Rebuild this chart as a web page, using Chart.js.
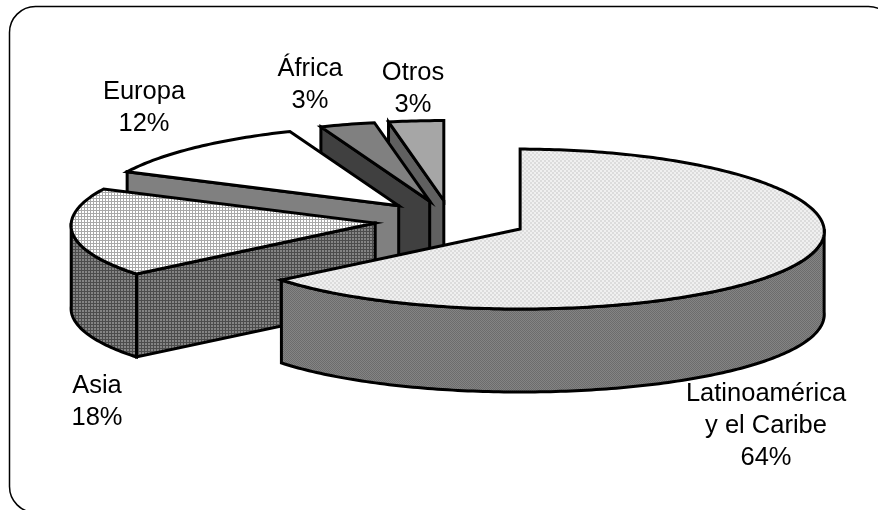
<!DOCTYPE html>
<html>
<head>
<meta charset="utf-8">
<title>Distribución</title>
<script src="https://cdn.jsdelivr.net/npm/chart.js@4/dist/chart.umd.min.js"></script>
<style>
  html, body { margin: 0; padding: 0; background: #fff; }
  #wrap { width: 878px; height: 510px; overflow: hidden; }
</style>
</head>
<body>
<div id="wrap"><canvas id="pie-3d" width="878" height="510"></canvas></div>
<script>
var categories = ['Latinoamérica y el Caribe', 'Asia', 'Europa', 'África', 'Otros'];
var shares = [64, 18, 12, 3, 3];

// lines of each label: category may wrap, the share always comes last
var label_lines = [['Latinoamérica', 'y el Caribe'], ['Asia'], ['Europa'], ['África'], ['Otros']];

var TILT = 0.263;      // vertical squash of the pie disc
var DEPTH = 83;        // wall height
var CENTER_Y = 220.5;  // screen y of the disc centre
var PERSPECTIVE = 0.03; // near side of the disc a little wider than the far side
var LABEL_FONT = '25.5px "Liberation Sans", Arial, sans-serif';
var LINE_GAP = 32;

// small tiled fills
function tile(size, paint) {
    var c = document.createElement('canvas');
    c.width = c.height = size;
    paint(c.getContext('2d'));
    return c.getContext('2d').createPattern(c, 'repeat');
}
function dots(bg, fg) {
    return tile(2, function(g) {
        g.fillStyle = bg; g.fillRect(0, 0, 2, 2);
        g.fillStyle = fg; g.fillRect(0, 0, 1, 1); g.fillRect(1, 1, 1, 1);
    });
}
function blocks(bg, fg) {
    return tile(4, function(g) {
        g.fillStyle = bg; g.fillRect(0, 0, 4, 4);
        g.fillStyle = fg; g.fillRect(0, 0, 2, 2); g.fillRect(2, 2, 2, 2);
    });
}
function grid(bg, fg) {
    return tile(3, function(g) {
        g.fillStyle = bg; g.fillRect(0, 0, 3, 3);
        g.fillStyle = fg; g.fillRect(0, 0, 3, 1); g.fillRect(0, 0, 1, 3);
    });
}

var top_fills = [blocks('#f0f0f0', '#dcdcdc'), grid('#ffffff', '#a8a8a8'), '#ffffff', '#808080', '#a6a6a6'];
var wall_fills = [dots('#848484', '#6c6c6c'), grid('#848484', '#4c4c4c'), '#808080', '#404040', '#606060'];

// where each label block is centred, first baseline
var label_spots = [[766, 401], [97, 393], [144, 99], [310, 76], [413, 80]];

var pie3d = {
    id: 'pie3d',
    beforeDraw: function(chart) {
        var ctx = chart.ctx;
        ctx.save();
        ctx.strokeStyle = '#000';
        ctx.lineWidth = 1.5;
        ctx.beginPath();
        ctx.roundRect(9.5, 6.5, 885, 506, 26);
        ctx.stroke();
        ctx.restore();
    },
    beforeDatasetDraw: function(chart, args) {
        var ctx = chart.ctx;
        var arcs = chart.getDatasetMeta(args.index).data;

        function finish(fill) {
            ctx.fillStyle = fill;
            ctx.fill();
            ctx.lineWidth = 3;
            ctx.lineJoin = 'miter';
            ctx.strokeStyle = '#000';
            ctx.stroke();
        }

        // back slices first, the big one goes on top of everything
        for (var i = arcs.length - 1; i >= 0; i--) {
            var a = arcs[i];
            var r = a.outerRadius;
            var mid = (a.startAngle + a.endAngle) / 2;
            var off = a.options.offset;
            var cx = a.x + Math.cos(mid) * off;
            var cy = CENTER_Y + Math.sin(mid) * off * TILT;

            function rim(t) {
                var s = 1 + PERSPECTIVE * Math.sin(t);
                return [cx + Math.cos(t) * r * s, cy + Math.sin(t) * r * TILT];
            }
            // trace the rim between two angles, dropped by dy
            function trace(t0, t1, dy) {
                var steps = Math.ceil(Math.abs(t1 - t0) * 60);
                for (var k = 0; k <= steps; k++) {
                    var p = rim(t0 + (t1 - t0) * k / steps);
                    ctx.lineTo(p[0], p[1] + dy);
                }
            }

            // flat wall along a radius, only when it faces the viewer
            [[a.startAngle, -1], [a.endAngle, 1]].forEach(function(edge) {
                var t = edge[0];
                if (Math.cos(t) * edge[1] <= 0.001) return;
                var p = rim(t);
                ctx.beginPath();
                ctx.moveTo(cx, cy);
                ctx.lineTo(p[0], p[1]);
                ctx.lineTo(p[0], p[1] + DEPTH);
                ctx.lineTo(cx, cy + DEPTH);
                ctx.closePath();
                finish(wall_fills[i]);
            });

            // curved wall on the lower half of the disc
            var from = Math.max(a.startAngle, 0), to = Math.min(a.endAngle, Math.PI);
            if (to > from) {
                ctx.beginPath();
                trace(from, to, 0);
                trace(to, from, DEPTH);
                ctx.closePath();
                finish(wall_fills[i]);
            }

            // top face
            ctx.beginPath();
            ctx.moveTo(cx, cy);
            trace(a.startAngle, a.endAngle, 0);
            ctx.closePath();
            finish(top_fills[i]);
        }
        return false;
    },
    afterDraw: function(chart) {
        var ctx = chart.ctx;
        ctx.save();
        ctx.font = LABEL_FONT;
        ctx.fillStyle = '#000';
        ctx.textAlign = 'center';
        ctx.textBaseline = 'alphabetic';
        categories.forEach(function(name, i) {
            var lines = label_lines[i].concat(shares[i] + '%');
            lines.forEach(function(line, n) {
                ctx.fillText(line, label_spots[i][0], label_spots[i][1] + n * LINE_GAP);
            });
        });
        ctx.restore();
    }
};

var chart_pie = new Chart(document.getElementById('pie-3d'), {
    type: 'pie',
    data: {
        labels: categories,
        datasets: [{
            data: shares,
            offset: 76.4,
            borderWidth: 0
        }]
    },
    options: {
        responsive: false,
        animation: false,
        radius: 304,
        layout: { padding: { left: 24 } },
        plugins: { legend: { display: false }, tooltip: { enabled: false } }
    },
    plugins: [pie3d]
});
</script>
</body>
</html>
